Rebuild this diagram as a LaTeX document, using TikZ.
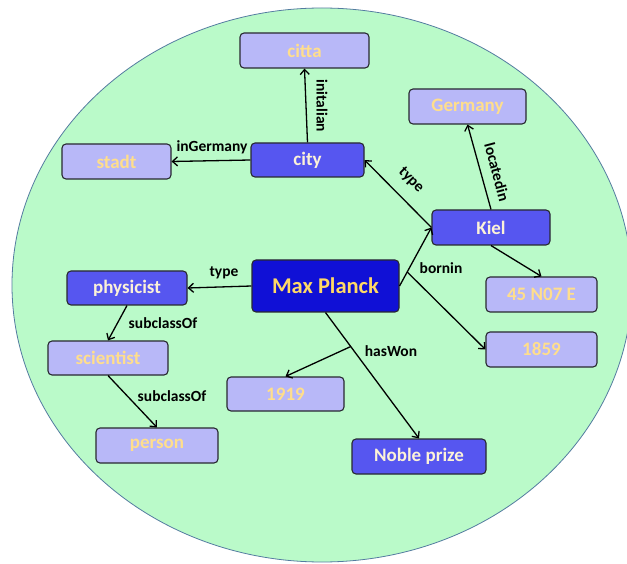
\documentclass[tikz,border=0pt]{standalone}
\usepackage{fontspec}
\setmainfont{Carlito}
\usetikzlibrary{arrows.meta}
\definecolor{mint}{RGB}{186,250,201}
\definecolor{rimblue}{RGB}{84,124,160}
\definecolor{deepblue}{RGB}{16,16,214}
\definecolor{midblue}{RGB}{86,86,240}
\definecolor{paleblue}{RGB}{184,184,248}
\definecolor{gold}{RGB}{255,217,102}
\definecolor{peach}{RGB}{255,222,140}
\definecolor{cream}{RGB}{252,242,216}
\definecolor{rim}{RGB}{40,40,48}
\tikzset{
  box/.style={draw=rim, line width=1.1pt, rounded corners=4pt, inner sep=0pt, font=\bfseries},
  litebox/.style={box, fill=paleblue, text=peach, font=\bfseries\fontsize{19}{22}\selectfont},
  midbox/.style={box, fill=midblue, text=cream, font=\bfseries\fontsize{19}{22}\selectfont},
  mainbox/.style={box, fill=deepblue, text=gold, font=\bfseries\fontsize{22.5}{26}\selectfont},
  rel/.style={line width=1.3pt, -{Straight Barb[length=5pt,width=9pt]}},
  lbl/.style={font=\bfseries\fontsize{15.5}{18}\selectfont, inner sep=0pt}
}
\begin{document}
\begin{tikzpicture}[x=1pt,y=-1pt]
\useasboundingbox (0,0) rectangle (627,564);
\fill[white] (0,0) rectangle (627,564);
\begin{scope}
  \clip (0,0) rectangle (627,564);
  \draw[fill=mint, draw=rimblue, line width=0.8pt] (322,285) ellipse [x radius=310, y radius=277];
\end{scope}

% nodes
\node[litebox, minimum width=129pt, minimum height=35pt] (citta) at (304.5,50.5) {citta};
\node[midbox,  minimum width=113pt, minimum height=34pt] (city) at (307.5,160) {city};
\node[litebox, minimum width=109pt, minimum height=35pt] (stadt) at (116.5,161.5) {stadt};
\node[litebox, minimum width=117pt, minimum height=35pt] (germany) at (467.5,106.5) {Germany};
\node[midbox,  minimum width=118pt, minimum height=35pt] (kiel) at (491,227.5) {Kiel};
\node[litebox, minimum width=111pt, minimum height=35pt] (coord) at (541.5,294.5) {45 N07 E};
\node[litebox, minimum width=111pt, minimum height=35pt] (year59) at (541.5,349.5) {1859};
\node[mainbox, minimum width=147pt, minimum height=52pt] (mp) at (325.5,286) {Max Planck};
\node[midbox,  minimum width=120pt, minimum height=34pt] (phys) at (127,288) {physicist};
\node[litebox, minimum width=120pt, minimum height=34pt] (sci) at (108,358) {scientist};
\node[litebox, minimum width=122pt, minimum height=35pt] (person) at (157,445.5) {person};
\node[litebox, minimum width=117pt, minimum height=34pt] (year19) at (285.5,394) {1919};
\node[midbox,  minimum width=134pt, minimum height=35pt] (prize) at (419,456.5) {Noble prize};

% connectors
\draw[rel] (city.north) -- (citta.south);
\draw[rel] (city.west) -- (stadt.east);
\draw[rel] (kiel.west) -- (city.east);
\draw[rel] (kiel.north) -- (germany.south);
\draw[rel] (kiel.south) -- (coord.north);
\draw[rel] (mp.east) -- coordinate[pos=0.24] (bornfork) (kiel.west);
\draw[rel] (bornfork) -- (year59.west);
\draw[rel] (mp.south) -- coordinate[pos=0.27] (wonfork) (prize.north);
\draw[rel] (wonfork) -- (year19.north);
\draw[rel] (mp.west) -- (phys.east);
\draw[rel] (phys.south) -- (sci.north);
\draw[rel] (sci.south) -- (person.north);

% connector labels
\node[lbl, rotate=-90] (l1) at (322,106) {initalian};
\node[lbl] (l2) at (212,147) {inGermany};
\node[lbl, rotate=-45] (l3) at (411,180) {type};
\node[lbl, rotate=-75] (l4) at (497,172) {locatedin};
\node[lbl] (l5) at (441,268) {bornin};
\node[lbl] (l6) at (391,351) {hasWon};
\node[lbl] (l7) at (224,273) {type};
\node[lbl] (l8) at (163,323) {subclassOf};
\node[lbl] (l9) at (172,396) {subclassOf};
\end{tikzpicture}
\end{document}
